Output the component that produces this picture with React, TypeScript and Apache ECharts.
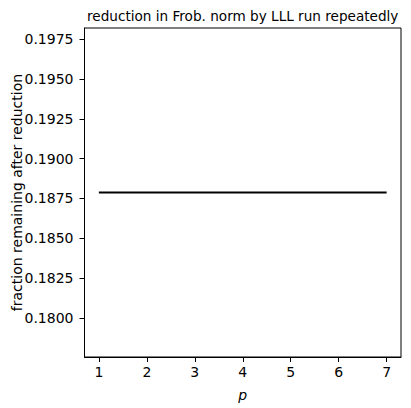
import React, { useEffect, useRef } from "react";
import * as echarts from "echarts";

const pValues = [1, 2, 3, 4, 5, 6, 7];
const fractionRemaining = [0.18787, 0.18787, 0.18787, 0.18787, 0.18787, 0.18787, 0.18787];
const xTicks = [1, 2, 3, 4, 5, 6, 7];
const yTicks = [0.18, 0.1825, 0.185, 0.1875, 0.19, 0.1925, 0.195, 0.1975];
const titleText = "reduction in Frob. norm by LLL run repeatedly";

const FONT = "DejaVu Sans";

export default function App() {
  const ref = useRef<HTMLDivElement>(null);
  useEffect(() => {
    if (!ref.current) return;
    const chart = echarts.init(ref.current, null, { renderer: "svg" });
    chart.setOption({
      animation: false,
      backgroundColor: "#ffffff",
      graphic: [
        {
          type: "text",
          x: 242.7,
          y: 16,
          style: {
            text: titleText,
            fontFamily: FONT,
            fontSize: 13.6,
            fill: "#000",
            textAlign: "center",
            textVerticalAlign: "middle",
          },
        },
      ],
      grid: {
        left: 84.5,
        right: 10,
        top: 28,
        bottom: 51,
        containLabel: false,
        outerBoundsMode: "none",
        show: true,
        borderColor: "#000",
        borderWidth: 1,
        backgroundColor: "transparent",
      },
      xAxis: {
        type: "value",
        min: 0.7,
        max: 7.3,
        name: "p",
        nameLocation: "middle",
        nameGap: 31,
        nameMoveOverlap: false,
        nameTextStyle: { fontFamily: FONT, fontSize: 14, fontStyle: "italic", color: "#000" },
        axisLine: { show: true, onZero: false, lineStyle: { color: "#000", width: 1 } },
        axisTick: { show: true, length: 5, lineStyle: { color: "#000" }, customValues: xTicks },
        axisLabel: {
          fontFamily: FONT,
          fontSize: 14,
          color: "#000",
          margin: 8,
          customValues: xTicks,
          formatter: (v: number) => String(v),
        },
        splitLine: { show: false },
      },
      yAxis: {
        type: "value",
        min: 0.18787 * 0.945,
        max: 0.18787 * 1.055,
        name: "fraction remaining after reduction",
        nameLocation: "middle",
        nameGap: 61,
        nameMoveOverlap: false,
        nameTextStyle: { fontFamily: FONT, fontSize: 14, color: "#000" },
        axisLine: { show: true, onZero: false, lineStyle: { color: "#000", width: 1 } },
        axisTick: { show: true, length: 5, lineStyle: { color: "#000" }, customValues: yTicks },
        axisLabel: {
          fontFamily: FONT,
          fontSize: 14,
          color: "#000",
          margin: 11,
          customValues: yTicks,
          formatter: (v: number) => v.toFixed(4),
        },
        splitLine: { show: false },
      },
      series: [
        {
          type: "line",
          data: pValues.map((p, i) => [p, fractionRemaining[i]]),
          showSymbol: false,
          lineStyle: { color: "#000", width: 2 },
        },
      ],
    });
    return () => chart.dispose();
  }, []);
  return (
    <div
      ref={ref}
      style={{ position: "fixed", left: 0, top: 0, width: 411, height: 408 }}
    />
  );
}
